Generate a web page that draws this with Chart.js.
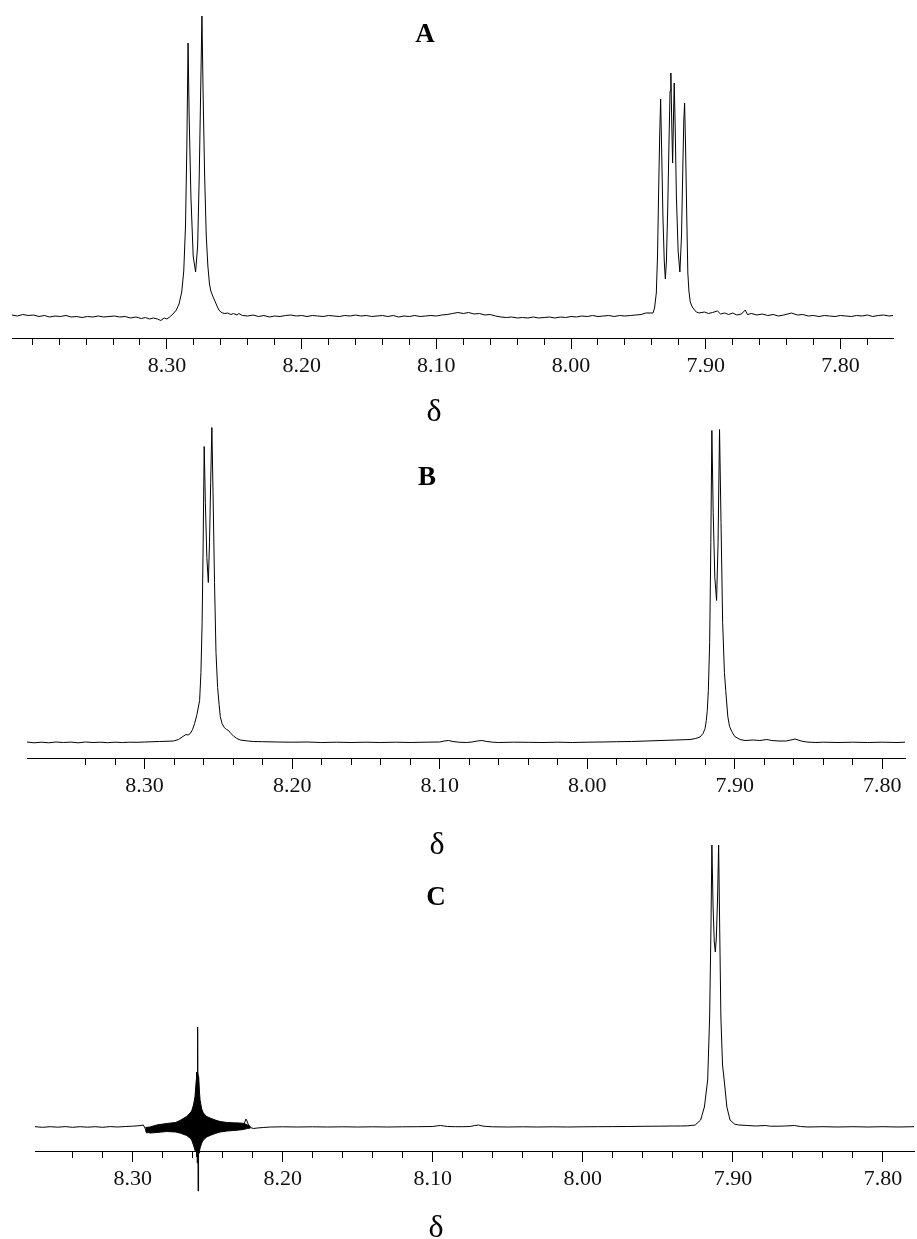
<!DOCTYPE html>
<html>
<head>
<meta charset="utf-8">
<script src="https://cdn.jsdelivr.net/npm/chart.js@4.4.0/dist/chart.umd.min.js"></script>
<style>
  body { margin: 0; background: #fff; }
  #page { position: relative; width: 917px; height: 1239px; overflow: hidden; background: #fff; }
  canvas { position: absolute; left: 0; }
  .lbl { position: absolute; font-family: "Liberation Serif", "Times New Roman", serif; color: #000;
         line-height: 1; transform: translate(-50%, -50%); white-space: nowrap; }
  .panel { font-weight: bold; font-size: 27px; }
  .delta { font-size: 32px; }
</style>
</head>
<body>
<div id="page">
  <canvas id="chartA" width="917" height="383" style="top:0px"></canvas>
  <canvas id="chartB" width="917" height="403" style="top:400px"></canvas>
  <canvas id="chartC" width="917" height="376" style="top:820px"></canvas>

  <div class="lbl panel" style="left:425px;top:33px">A</div>
  <div class="lbl panel" style="left:427px;top:476px">B</div>
  <div class="lbl panel" style="left:436px;top:896px">C</div>
  <div class="lbl delta" style="left:434px;top:410px">δ</div>
  <div class="lbl delta" style="left:437px;top:843px">δ</div>
  <div class="lbl delta" style="left:436px;top:1226px">δ</div>
</div>
<script>
// labelled ticks (ppm); minor ticks every 0.02
const majorTicks = [8.30, 8.20, 8.10, 8.00, 7.90, 7.80];
const minorStep = 0.02;

// spectrum A: [ppm, intensity]
const specA = [
  [8.415,1],[8.411,0],[8.407,1.5],[8.403,0.5],[8.399,1],[8.395,-0.5],[8.391,0.5],[8.387,-1],
  [8.383,0],[8.379,-0.5],[8.375,0.5],[8.371,-1],[8.367,-0.5],[8.363,-1.5],[8.359,-0.5],[8.355,-1],
  [8.351,0],[8.347,-1],[8.343,-0.5],[8.339,0],[8.335,-1],[8.331,-0.5],[8.327,-2],[8.323,-1],
  [8.319,-2.5],[8.316,-1.5],[8.313,-3],[8.310,-2],[8.307,-3],[8.3045,-4.5],[8.302,-2],[8.300,-3],
  [8.298,-1],[8.2955,2],[8.293,6],[8.291,12],[8.289,24],[8.2875,45],[8.2862,90],[8.2852,170],
  [8.2843,273],[8.2835,200],[8.2822,120],[8.2805,60],[8.2787,44],[8.2772,70],[8.2760,140],[8.2750,220],
  [8.2740,300],[8.2731,220],[8.2720,140],[8.2708,80],[8.2696,50],[8.2684,32],[8.2674,25],[8.2660,20],
  [8.2644,15],[8.2628,10],[8.2614,6],[8.2600,4],[8.2585,3],[8.2570,2.5],[8.2550,3],[8.2525,1.5],
  [8.2505,2.5],[8.2480,1],[8.2466,2.5],[8.2440,0.5],
  [8.240,0],[8.236,1],[8.232,-0.5],[8.228,0.5],[8.224,-1],[8.220,0],[8.216,-0.5],[8.212,0.5],
  [8.208,1],[8.204,0],[8.200,0.5],[8.196,-0.5],[8.192,0.5],[8.188,0],[8.184,-0.5],[8.180,0.5],
  [8.176,0],[8.172,-0.5],[8.168,0.5],[8.164,0],[8.160,1],[8.156,0],[8.152,0.5],[8.148,-0.5],
  [8.144,0],[8.140,0.5],[8.136,-0.5],[8.132,0.5],[8.128,-1],[8.124,0],[8.120,-0.5],[8.116,0.5],
  [8.112,-0.5],[8.108,0],[8.104,0.5],[8.100,0],[8.096,1],[8.092,1.5],[8.088,2.5],[8.084,3.5],
  [8.080,2.5],[8.076,3.5],[8.072,2],[8.068,2.5],[8.064,1],[8.060,1.5],[8.056,0],[8.052,-1],
  [8.048,-1.5],[8.044,-1],[8.040,-2],[8.036,-1.5],[8.032,-2],[8.028,-1],[8.024,-2],[8.020,-1.5],
  [8.016,-1],[8.012,-2],[8.008,-1],[8.004,-1.5],[8.000,-0.5],[7.996,-1],[7.992,0],[7.988,-0.5],
  [7.984,0.5],[7.980,-0.5],[7.976,0],[7.972,0.5],[7.968,-0.5],[7.964,0.5],[7.960,0],[7.956,0.5],
  [7.952,1],[7.948,1.5],[7.9445,3],
  [7.9392,3],[7.9380,8],[7.9367,23],[7.9358,60],[7.9350,123],[7.9342,180],[7.9335,217],[7.9328,170],
  [7.9318,100],[7.9308,55],[7.9300,37],[7.9292,55],[7.9282,110],[7.9272,180],[7.9265,225],[7.9259,243],
  [7.9252,190],[7.9246,153],[7.9240,195],[7.9234,233],[7.9227,190],[7.9218,120],[7.9205,65],[7.9192,44],
  [7.9180,80],[7.9170,150],[7.9163,195],[7.9157,213],[7.9150,170],[7.9141,100],[7.9133,43],[7.9125,25],
  [7.9115,14],[7.9100,9],[7.9083,6],[7.9070,4],
  [7.905,3],[7.901,4],[7.898,2.5],[7.895,3.5],[7.8913,5],[7.889,2],[7.886,3],[7.883,1.5],
  [7.8799,3],[7.877,1],[7.8735,2],[7.8707,6],[7.869,1.5],[7.866,2.5],[7.862,1],[7.858,2],
  [7.854,0.5],[7.850,1.5],[7.846,0],[7.842,1],[7.8364,3],[7.832,1],[7.828,1.5],[7.824,0],
  [7.820,0.5],[7.816,-0.5],[7.812,0.5],[7.808,0],[7.804,-0.5],[7.800,0.5],[7.796,0],[7.792,-0.5],
  [7.788,0.5],[7.784,0],[7.780,1],[7.776,-0.5],[7.772,0.5],[7.768,1],[7.764,0],[7.761,0.5]
];

// spectrum B
const specB = [
  [8.3797,0.5],[8.375,-0.3],[8.370,0.3],[8.365,-0.3],[8.360,0.5],[8.355,0],[8.350,0.4],[8.345,-0.3],
  [8.340,0.5],[8.335,0],[8.330,0.3],[8.325,-0.2],[8.320,0.3],[8.315,0],[8.310,0.3],[8.305,0.2],
  [8.300,0.5],[8.290,1],[8.2804,1.5],[8.277,3],[8.274,6],[8.272,8],[8.2705,7.5],[8.269,9],
  [8.2675,13],[8.2661,19],[8.2645,28],[8.2627,42],[8.2618,70],[8.2610,120],[8.2603,200],[8.2596,296],
  [8.2588,240],[8.2578,185],[8.2568,160],[8.2560,200],[8.2552,260],[8.2544,315],[8.2536,250],[8.2526,160],
  [8.2516,90],[8.2505,55],[8.2495,38],[8.2487,26],[8.2475,19],[8.2460,15],[8.2445,13],[8.2431,12],
  [8.2415,9],[8.2397,6.5],[8.2375,4],[8.2352,2.5],[8.2300,1.5],[8.2262,1],[8.220,0.8],[8.210,0.5],
  [8.200,0.3],[8.190,0.5],[8.180,0],[8.170,0.3],[8.160,0],[8.150,0.3],[8.140,0],[8.130,0.3],
  [8.120,0],[8.110,0.3],[8.100,0.5],[8.097,1.5],[8.094,2],[8.091,1],[8.087,0.3],[8.082,0],
  [8.078,0.5],[8.0745,1.5],[8.0714,2],[8.068,1],[8.064,0.3],[8.060,0],[8.050,0.3],[8.040,0.2],
  [8.030,0],[8.020,0.3],[8.010,0],[8.000,0.3],[7.990,0.5],[7.980,0.8],[7.970,1],[7.960,1.5],
  [7.950,2],[7.940,2.5],[7.9303,3],[7.9265,4],[7.9235,5.5],[7.9215,9],[7.9201,14],[7.9193,22],
  [7.9186,32],[7.9179,52],[7.9170,100],[7.9162,200],[7.9155,312],[7.9146,230],[7.9135,165],[7.9123,142],
  [7.9113,200],[7.9103,313],[7.9093,220],[7.9082,120],[7.9070,70],[7.9061,52],[7.9047,26],[7.9035,16],
  [7.9020,11],[7.9000,6],[7.8964,3],[7.8930,2],[7.8874,2.5],[7.8830,2],[7.8783,3],[7.8750,2],
  [7.8700,1.5],[7.8650,1.5],[7.8591,3.5],[7.8550,1.5],[7.8512,0.5],[7.845,0],[7.840,0.3],[7.830,0],
  [7.820,0.3],[7.810,0],[7.800,0.3],[7.790,0],[7.7846,0.3]
];

// spectrum C (centre trace)
const specC = [
  [8.3651,0.3],[8.360,-0.3],[8.355,0.3],[8.350,-0.2],[8.345,0.4],[8.340,-0.3],[8.335,0.3],[8.330,-0.2],
  [8.325,0.3],[8.320,-0.3],[8.315,0.4],[8.310,0],[8.305,0.5],[8.300,0.8],[8.2965,1.2],[8.2945,1.5],
  [8.2929,2],[8.2918,-1],[8.2907,-6],[8.2895,-5.5],[8.2880,-4.5],[8.2863,-4],[8.2830,-3],[8.2796,-2.5],
  [8.2750,-1.5],[8.2700,-1],[8.2650,-0.5],[8.2610,0],[8.2590,3],[8.2580,10],[8.2575,45],[8.2574,-30],
  [8.2572,55],[8.2570,-36],[8.2568,60],[8.2566,100],[8.2564,-64],[8.2562,-36],[8.2560,45],[8.2558,-26],
  [8.2556,30],[8.2553,-20],[8.2550,8],[8.2540,1],[8.2500,0.5],[8.2450,0.3],[8.2400,0],[8.2350,0],
  [8.2300,0.2],[8.2270,1],[8.2255,4],[8.2245,8],[8.2238,6],[8.2228,2],[8.2215,-0.5],[8.2196,-1.5],
  [8.2170,-1],[8.2130,-0.5],[8.2080,0],[8.2000,0.2],[8.1900,0],[8.1800,0.2],[8.1700,0],[8.1600,0.2],
  [8.1500,0],[8.1400,0.2],[8.1300,0],[8.1200,0.2],[8.1100,0.3],[8.1000,0.5],[8.0970,1.2],[8.0948,1.5],
  [8.0925,1],[8.0900,0.5],[8.0850,0.3],[8.0800,0.3],[8.0750,0.5],[8.0720,1.5],[8.0695,2],[8.0670,1],
  [8.0640,0.5],[8.0600,0.2],[8.0500,0],[8.0400,0.2],[8.0300,0],[8.0200,0.2],[8.0100,0],[8.0000,0.2],
  [7.9900,0.3],[7.9800,0.4],[7.9700,0.5],[7.9600,0.7],[7.9500,0.8],[7.9400,1],[7.9350,1],[7.9300,1.2],
  [7.9251,2],[7.9215,7],[7.9190,20],[7.9168,47],[7.9155,110],[7.9146,200],[7.9140,282],[7.9132,220],
  [7.9124,185],[7.9117,175],[7.9110,190],[7.9102,230],[7.9095,282],[7.9088,200],[7.9080,110],[7.9069,62],
  [7.9058,47],[7.9040,20],[7.9019,7],[7.8990,3],[7.8961,2],[7.8900,1.5],[7.8850,1],[7.8785,1.5],
  [7.8750,0.8],[7.8700,0.8],[7.8650,1],[7.8590,1.5],[7.8550,0.5],[7.8500,0],[7.8400,0.3],[7.8300,0],
  [7.8200,0.3],[7.8100,0],[7.8000,0.3],[7.7900,0],[7.7793,0.3]
];

// spectrum C: upper and lower edge of the dark artefact band
const bandTopC = [
  [8.2915,-0.5],[8.2885,0],[8.2840,2],[8.2773,3.5],[8.2715,4.5],[8.2685,6.5],[8.2640,10.5],[8.2618,14],
  [8.2607,16],[8.2595,22],[8.2585,30],[8.2577,45],[8.2570,55],[8.2566,55],[8.2560,50],[8.2555,35],
  [8.2551,27],[8.2540,18],[8.2529,14],[8.2507,10.5],[8.2485,9],[8.2450,7],[8.2418,5.5],[8.2370,4.5],
  [8.2329,4.2],[8.2290,4],[8.2263,3.7],[8.2250,3],[8.2235,2],[8.2215,0.5]
];
const bandBottomC = [
  [8.2915,-4],[8.2885,-6],[8.2840,-5.5],[8.2773,-4.5],[8.2715,-5],[8.2685,-6],[8.2640,-8.5],[8.2618,-11],
  [8.2607,-13],[8.2595,-18],[8.2585,-23],[8.2577,-28],[8.2570,-32],[8.2566,-32],[8.2560,-28],[8.2555,-24],
  [8.2551,-21],[8.2540,-16],[8.2529,-13],[8.2507,-10],[8.2485,-8.5],[8.2450,-6.5],[8.2418,-5],[8.2370,-4],
  [8.2329,-3.5],[8.2290,-3],[8.2263,-2.5],[8.2250,-2],[8.2235,-1.5],[8.2215,-1]
];

function toXY(pairs) {
  return pairs.map(p => ({ x: p[0], y: p[1] }));
}
function isMajor(v) {
  return majorTicks.some(m => Math.abs(m - v) < 1e-6);
}
function makeTicks(from, to) {
  var out = [];
  var n = Math.round((to - from) / minorStep);
  for (var i = 0; i <= n; i++) {
    out.push({ value: Math.round((from + i * minorStep) * 100) / 100 });
  }
  return out;
}

function drawPanel(canvasId, cfg) {
  var datasets = [{
    data: toXY(cfg.spectrum),
    borderColor: '#000',
    borderWidth: 1,
    pointRadius: 0,
    fill: false,
    clip: false
  }];
  if (cfg.extra) datasets = datasets.concat(cfg.extra);

  new Chart(document.getElementById(canvasId), {
    type: 'line',
    data: { datasets: datasets },
    options: {
      responsive: false,
      animation: false,
      devicePixelRatio: 1,
      layout: { padding: { left: cfg.pad[0], right: cfg.pad[1], top: cfg.pad[2], bottom: 0 } },
      plugins: { legend: { display: false }, tooltip: { enabled: false } },
      elements: { line: { tension: 0 } },
      scales: {
        x: {
          type: 'linear',
          reverse: true,
          min: cfg.range[0],
          max: cfg.range[1],
          afterBuildTicks: function (scale) { scale.ticks = makeTicks(cfg.tickRange[0], cfg.tickRange[1]); },
          afterFit: function (scale) { scale.height = 45; },
          border: { display: true, color: '#000', width: 1 },
          grid: {
            display: true,
            drawOnChartArea: false,
            drawTicks: true,
            tickLength: 11,
            tickColor: '#000',
            tickWidth: 1,
            tickBorderDash: function (ctx) { return isMajor(ctx.tick.value) ? [] : [6, 40]; }
          },
          ticks: {
            autoSkip: false,
            maxRotation: 0,
            minRotation: 0,
            padding: 4,
            color: '#111',
            font: { family: '"Liberation Serif", "Times New Roman", serif', size: 22 },
            callback: function (value) { return isMajor(value) ? value.toFixed(2) : ''; }
          }
        },
        y: { display: false, min: cfg.yRange[0], max: cfg.yRange[1] }
      }
    }
  });
}

drawPanel('chartA', {
  spectrum: specA,
  range: [7.761, 8.415], tickRange: [7.78, 8.40],
  yRange: [-22, 306], pad: [12, 24, 10]
});
drawPanel('chartB', {
  spectrum: specB,
  range: [7.7846, 8.3797], tickRange: [7.80, 8.34],
  yRange: [-15.5, 322.5], pad: [27, 12, 20]
});
drawPanel('chartC', {
  spectrum: specC,
  range: [7.7793, 8.3651], tickRange: [7.80, 8.34],
  yRange: [-24, 292], pad: [35, 3, 15],
  extra: [
    { data: toXY(bandTopC), borderColor: '#000', borderWidth: 1, backgroundColor: '#000',
      pointRadius: 0, fill: '+1' },
    { data: toXY(bandBottomC), borderColor: '#000', borderWidth: 1, backgroundColor: '#000',
      pointRadius: 0, fill: false }
  ]
});
</script>
</body>
</html>
